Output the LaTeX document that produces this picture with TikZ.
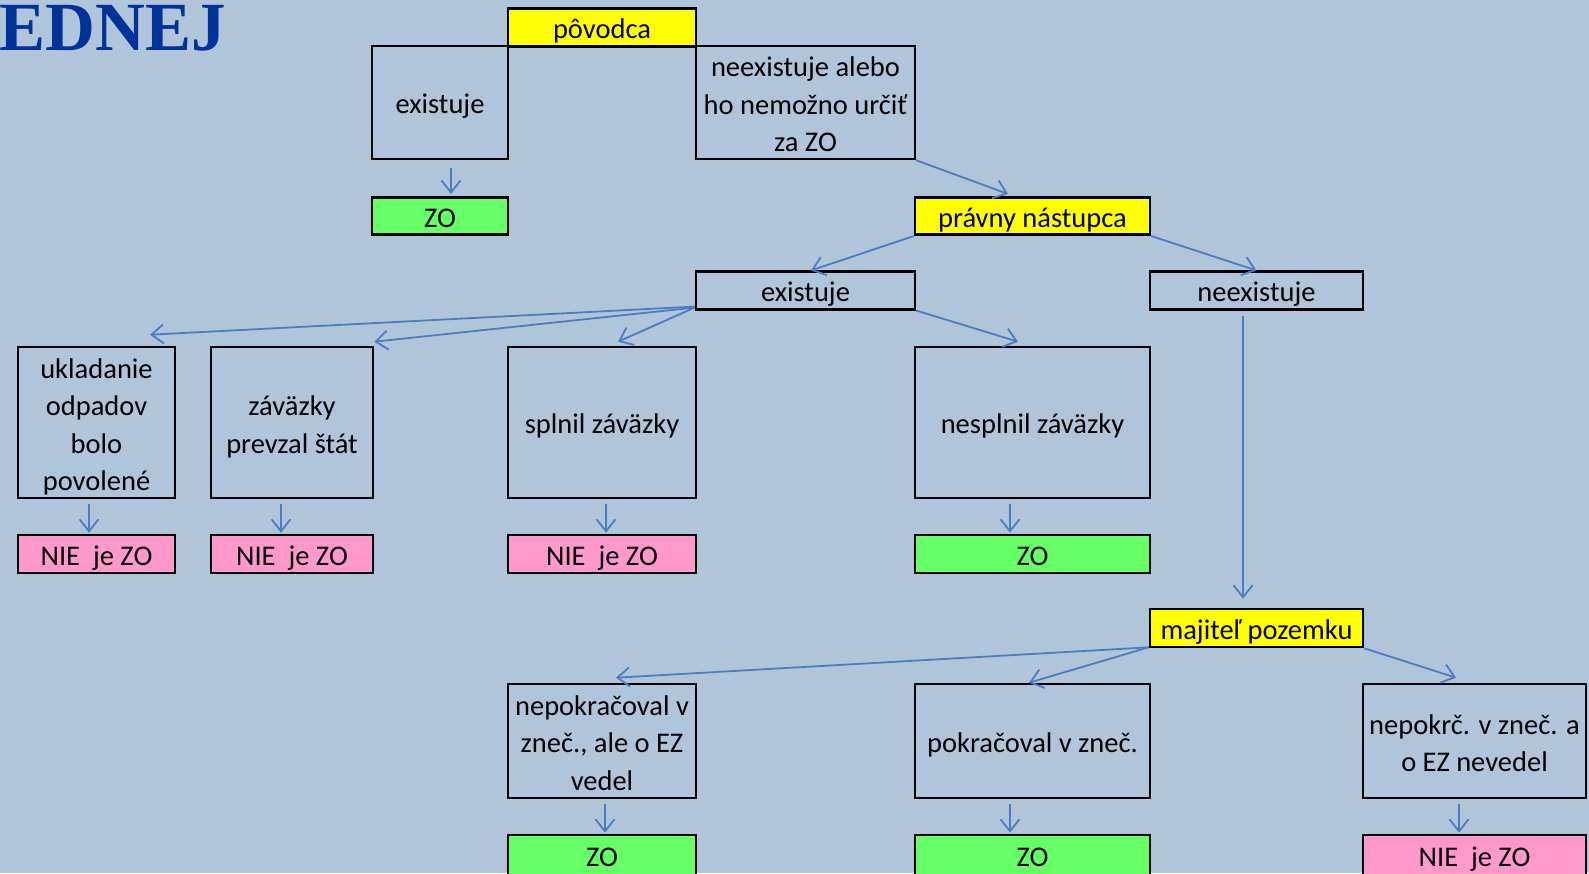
\documentclass[tikz,border=0pt]{standalone}
\usepackage{fontspec}
\setmainfont{Carlito}
\newfontfamily\titlefont{Liberation Serif}
\usetikzlibrary{arrows.meta}
\definecolor{bg}{RGB}{176,196,218}
\definecolor{conn}{RGB}{74,126,193}
\definecolor{ttl}{RGB}{0,51,153}
\definecolor{yel}{RGB}{255,255,0}
\definecolor{grn}{RGB}{102,255,102}
\definecolor{pnk}{RGB}{255,153,204}
\newcommand\boxtxtm[1]{\raisebox{-4.3pt}[\height][\depth]{\begin{tabular}{@{}c@{}}#1\end{tabular}}}
\newcommand\boxtxt[1]{\raisebox{-3.8pt}[\height][\depth]{\begin{tabular}{@{}c@{}}#1\end{tabular}}}
\begin{document}
\begin{tikzpicture}[x=1pt,y=-1pt,
 box/.style={draw=black, line width=2.6pt, inner sep=0pt, font=\fontsize{28.5}{37.5}\selectfont},
 arr/.style={draw=conn, line width=1.8pt, -{Straight Barb[length=12pt,width=19pt]}},
 vert/.style={arr, shorten <=5pt, shorten >=1pt},
]
\fill[bg] (0,0) rectangle (1589,873);
\useasboundingbox (0,0) rectangle (1589,873);

\node[anchor=base east, inner sep=0pt, font=\titlefont\bfseries\fontsize{69}{69}\selectfont, text=ttl] (title) at (226,50) {EDNEJ};

\node[box,fill=yel,minimum width=188pt,minimum height=37pt] (pov) at (602,27.5) {\boxtxt{pôvodca}};
\node[box,minimum width=136pt,minimum height=113pt] (ex1) at (440,102.5) {\boxtxt{existuje}};
\node[box,minimum width=219pt,minimum height=113pt] (nex1) at (805.5,102.5) {\boxtxtm{neexistuje alebo\\ho nemožno určiť\\za ZO}};
\node[box,fill=grn,minimum width=136pt,minimum height=36pt] (zo1) at (440,216) {\boxtxt{ZO}};
\node[box,fill=yel,minimum width=235pt,minimum height=36pt] (pn) at (1032.5,216) {\boxtxt{právny nástupca}};
\node[box,minimum width=219pt,minimum height=37pt] (ex2) at (805.5,290.5) {\boxtxt{existuje}};
\node[box,minimum width=213pt,minimum height=37pt] (nex2) at (1256.5,290.5) {\boxtxt{neexistuje}};

\node[box,minimum width=157pt,minimum height=151pt] (ukl) at (96.5,422.5) {\boxtxtm{ukladanie\\odpadov\\bolo\\povolené}};
\node[box,minimum width=162pt,minimum height=151pt] (zav) at (292,422.5) {\boxtxtm{záväzky\\prevzal štát}};
\node[box,minimum width=188pt,minimum height=151pt] (spl) at (602,422.5) {\boxtxt{splnil záväzky}};
\node[box,minimum width=235pt,minimum height=151pt] (nes) at (1032.5,422.5) {\boxtxt{nesplnil záväzky}};

\node[box,fill=pnk,minimum width=157pt,minimum height=38pt] (nie1) at (96.5,554) {\boxtxt{NIE\ \ je ZO}};
\node[box,fill=pnk,minimum width=162pt,minimum height=38pt] (nie2) at (292,554) {\boxtxt{NIE\ \ je ZO}};
\node[box,fill=pnk,minimum width=188pt,minimum height=38pt] (nie3) at (602,554) {\boxtxt{NIE\ \ je ZO}};
\node[box,fill=grn,minimum width=235pt,minimum height=38pt] (zo2) at (1032.5,554) {\boxtxt{ZO}};

\node[box,fill=yel,minimum width=213pt,minimum height=38pt] (maj) at (1256.5,628) {\boxtxt{majiteľ pozemku}};

\node[box,minimum width=188pt,minimum height=114pt] (nep) at (602,741) {\boxtxtm{nepokračoval v\\zneč., ale o EZ\\vedel}};
\node[box,minimum width=235pt,minimum height=114pt] (pok) at (1032.5,741) {\boxtxt{pokračoval v zneč.}};
\node[box,minimum width=223pt,minimum height=114pt] (nepk) at (1474.5,741) {\boxtxtm{nepokrč. v zneč. a\\o EZ nevedel}};

\node[box,fill=grn,minimum width=188pt,minimum height=40pt] (zo3) at (602,855) {\boxtxt{ZO}};
\node[box,fill=grn,minimum width=235pt,minimum height=40pt] (zo4) at (1032.5,855) {\boxtxt{ZO}};
\node[box,fill=pnk,minimum width=223pt,minimum height=40pt] (nie4) at (1474.5,855) {\boxtxt{NIE\ \ je ZO}};

% connectors
\draw[arr, shorten <=8pt, shorten >=2pt] ([xshift=11pt]ex1.south) -- ([xshift=11pt]zo1.north);
\draw[arr] (nex1.south east) -- ([xshift=-24.5pt,yshift=2pt]pn.north);
\draw[arr] (pn.south west) -- ([xshift=5.5pt]ex2.north);
\draw[arr] (pn.south east) -- (nex2.north);
\draw[arr] ([yshift=4pt]ex2.south west) -- ([xshift=53.5pt,yshift=11pt]ukl.north);
\draw[arr] ([yshift=3pt]ex2.south west) -- ([yshift=4pt]zav.north east);
\draw[arr] ([yshift=3pt]ex2.south west) -- ([xshift=16pt,yshift=4pt]spl.north);
\draw[arr] (ex2.south east) -- ([xshift=-14.5pt,yshift=4pt]nes.north);

\draw[vert] ([xshift=-7.5pt]ukl.south) -- ([xshift=-7.5pt]nie1.north);
\draw[vert] ([xshift=-11pt]zav.south) -- ([xshift=-11pt]nie2.north);
\draw[vert] ([xshift=4pt]spl.south) -- ([xshift=4pt]nie3.north);
\draw[vert] ([xshift=-22.5pt]nes.south) -- ([xshift=-22.5pt]zo2.north);

\draw[arr, shorten <=5pt, shorten >=9pt] ([xshift=-13.5pt]nex2.south) -- ([xshift=-13.5pt]maj.north);

\draw[arr] ([yshift=1pt]maj.south west) -- ([xshift=14pt,yshift=5pt]nep.north);
\draw[arr] ([yshift=1pt]maj.south west) -- ([xshift=-3.5pt]pok.north);
\draw[arr] (maj.south east) -- ([xshift=-18.5pt,yshift=5pt]nepk.north);

\draw[vert] ([xshift=3pt]nep.south) -- ([xshift=3pt]zo3.north);
\draw[vert] ([xshift=-22.5pt]pok.south) -- ([xshift=-22.5pt]zo4.north);
\draw[vert] ([xshift=-15.5pt]nepk.south) -- ([xshift=-15.5pt]nie4.north);
\end{tikzpicture}
\end{document}
